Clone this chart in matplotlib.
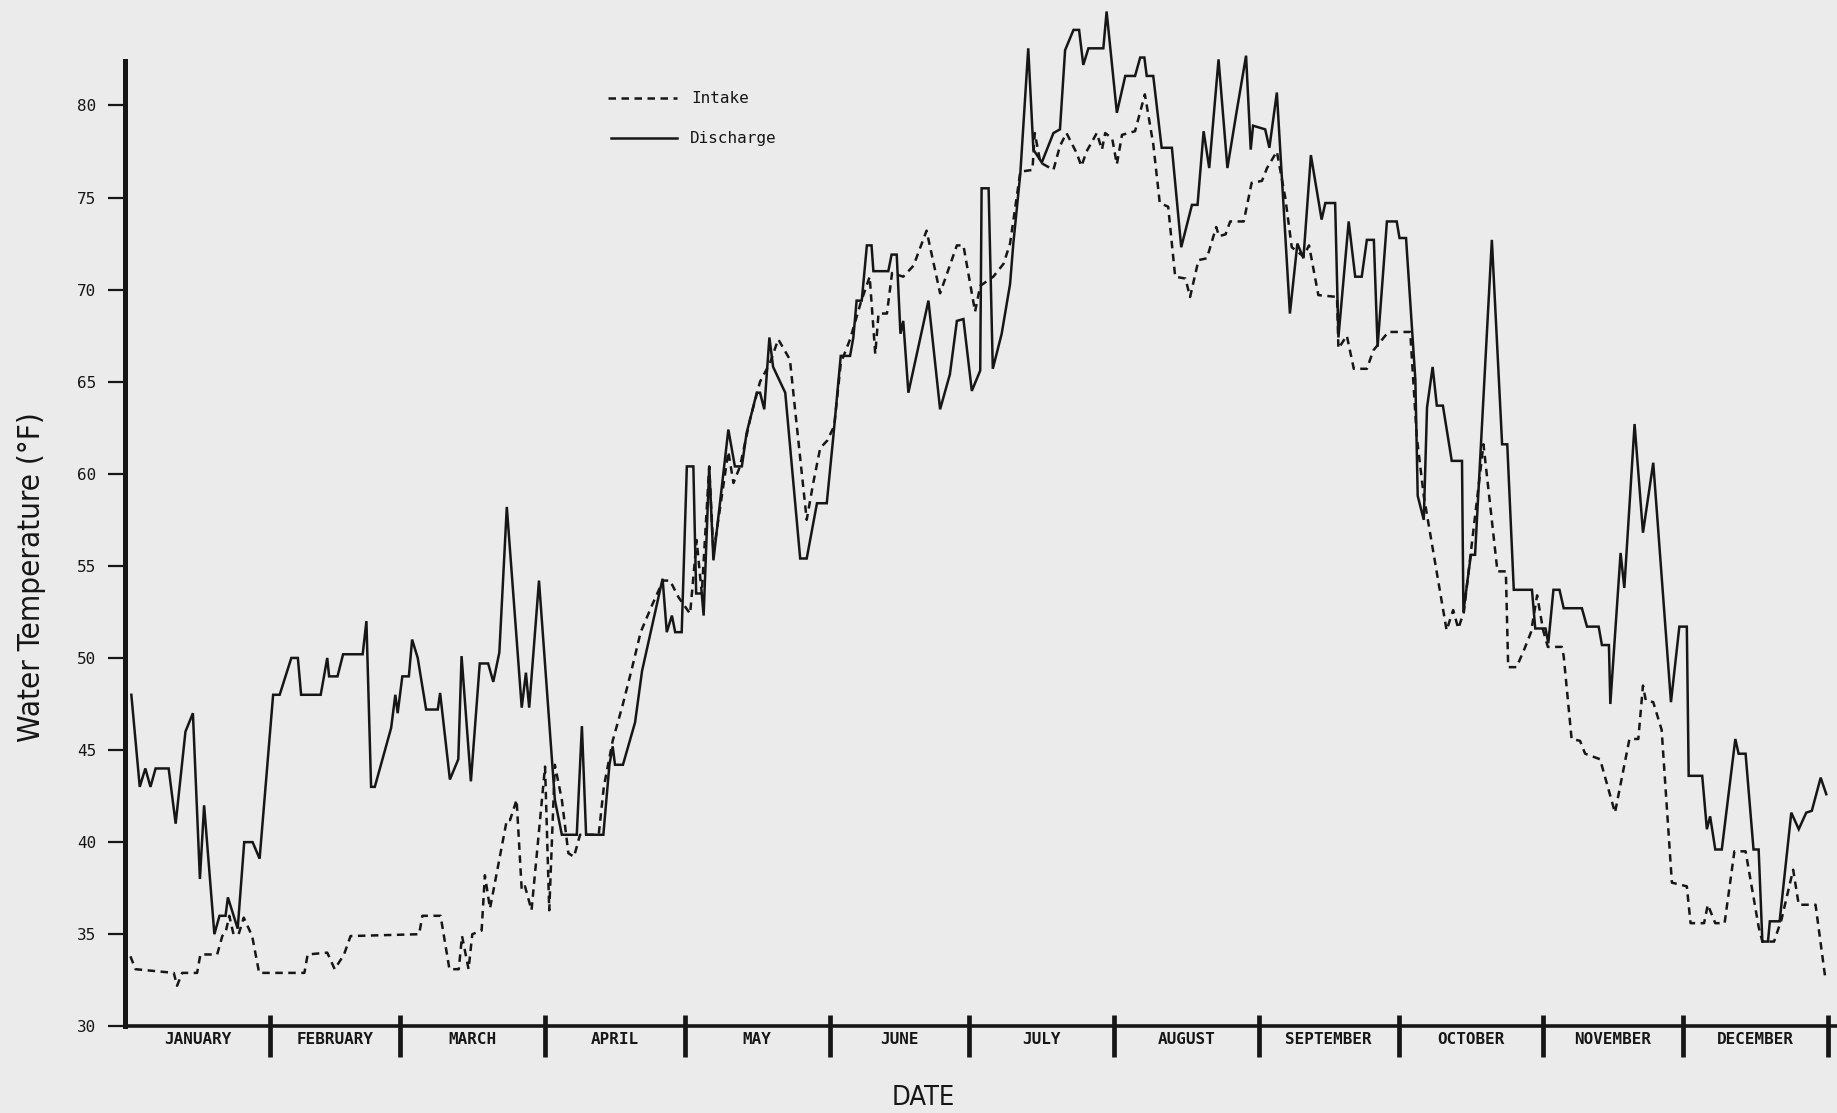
import matplotlib
matplotlib.use("Agg")
import matplotlib.pyplot as plt
from matplotlib.lines import Line2D

# ---- data: day of year and water temperature (deg F) ----
discharge_day = [
    1.3, 3.1, 4.3, 5.4, 6.5, 9.3, 10.8, 12.9, 14.5, 16.0, 16.9, 19.1, 20.2, 21.5, 22.0,
    24.1, 25.5, 27.3, 28.8, 31.7, 33.1, 35.6, 37.0, 37.7, 41.9, 43.3, 43.7, 45.5, 46.7,
    50.9, 51.7, 52.7, 53.5, 57.0, 57.9, 58.4, 59.4, 60.8, 61.5, 62.7, 64.5, 67.0, 67.5,
    69.6, 71.4, 72.1, 74.1, 76.0, 77.8, 78.9, 80.2, 81.8, 85.0, 85.9, 86.6, 88.7, 92.1,
    93.6, 96.8, 97.9, 98.8, 102.5, 103.8, 104.5, 105.0, 106.7, 109.3, 110.8, 115.2,
    116.1, 117.2, 117.9, 119.3, 120.4, 121.8, 122.4, 123.6, 124.0, 125.2, 126.1, 129.3,
    130.7, 132.2, 133.2, 135.4, 136.1, 137.0, 138.1, 138.9, 141.5, 144.7, 146.1, 148.3,
    150.4, 151.8, 153.4, 155.4, 156.1, 156.8, 157.9, 159.0, 160.0, 160.4, 163.6, 164.3,
    165.4, 166.2, 166.8, 167.9, 172.2, 174.7, 176.8, 178.3, 179.7, 181.5, 183.3, 183.6,
    185.1, 186.0, 187.9, 189.7, 190.4, 191.9, 193.6, 194.7, 196.5, 199.0, 200.4, 201.5,
    203.3, 204.5, 205.4, 206.5, 209.7, 210.4, 212.6, 214.4, 216.5, 217.6, 218.5, 219.0,
    220.4, 222.2, 224.4, 226.4, 228.7, 229.9, 231.2, 232.4, 234.4, 236.3, 238.3, 240.3,
    241.3, 241.8, 244.4, 245.3, 246.9, 249.7, 251.3, 252.6, 254.2, 256.5, 257.3, 259.4,
    260.1, 262.3, 263.7, 265.1, 266.2, 267.7, 268.5, 270.5, 272.6, 273.2, 274.6, 276.6,
    277.1, 278.4, 279.1, 280.3, 281.2, 282.5, 284.4, 286.6, 286.9, 288.5, 289.4, 293.0,
    295.2, 296.3, 297.7, 301.6, 302.3, 304.5, 305.1, 306.2, 307.5, 308.4, 312.3, 313.4,
    315.9, 316.6, 318.1, 318.4, 320.6, 321.4, 323.6, 325.4, 327.6, 331.4, 333.2, 334.8,
    335.2, 338.1, 339.1, 339.8, 340.9, 342.3, 345.2, 345.9, 347.4, 349.1, 350.2, 351.0,
    352.2, 352.6, 354.7, 357.2, 358.8, 360.4, 361.6, 363.5, 364.7,
]
discharge_temp = [
    48.0, 43.0, 44.0, 43.0, 44.0, 44.0, 41.0, 46.0, 47.0, 38.0, 42.0, 35.0, 36.0, 36.0, 37.0,
    35.3, 40.0, 40.0, 39.1, 48.0, 48.0, 50.0, 50.0, 48.0, 48.0, 50.0, 49.0, 49.0, 50.2,
    50.2, 52.0, 43.0, 43.0, 46.2, 48.0, 47.0, 49.0, 49.0, 51.0, 50.0, 47.2, 47.2, 48.1,
    43.4, 44.5, 50.1, 43.3, 49.7, 49.7, 48.7, 50.3, 58.2, 47.3, 49.2, 47.3, 54.2, 42.3,
    40.4, 40.4, 46.3, 40.4, 40.4, 44.2, 45.2, 44.2, 44.2, 46.5, 49.3, 54.3,
    51.4, 52.3, 51.4, 51.4, 60.4, 60.4, 53.5, 53.5, 52.3, 60.4, 55.3, 62.4,
    60.4, 60.4, 62.2, 64.4, 64.4, 63.5, 67.4, 65.8, 64.4, 55.4, 55.4, 58.4,
    58.4, 62.0, 66.4, 66.4, 67.4, 69.4, 69.4, 72.4, 72.4, 71.0, 71.0, 71.9,
    71.9, 67.6, 68.3, 64.4, 69.4, 63.5, 65.4, 68.3, 68.4, 64.5, 65.6, 75.5,
    75.5, 65.7, 67.6, 70.3, 72.5, 76.3, 83.1, 77.6, 76.9, 78.5, 78.7, 83.0,
    84.1, 84.1, 82.2, 83.1, 83.1, 85.1, 79.6, 81.6, 81.6, 82.6, 82.6, 81.6,
    81.6, 77.7, 77.7, 72.3, 74.6, 74.6, 78.6, 76.6, 82.5, 76.6, 79.7, 82.7,
    77.6, 78.9, 78.7, 77.7, 80.7, 68.7, 72.5, 71.7, 77.3, 73.8, 74.7, 74.7,
    67.4, 73.7, 70.7, 70.7, 72.7, 72.7, 66.9, 73.7, 73.7, 72.8, 72.8, 65.1,
    58.8, 57.5, 63.6, 65.8, 63.7, 63.7, 60.7, 60.7, 52.5, 55.6, 55.6, 72.7,
    61.6, 61.6, 53.7, 53.7, 51.6, 51.6, 50.8, 53.7, 53.7, 52.7, 52.7, 51.7,
    51.7, 50.7, 50.7, 47.5, 55.7, 53.8, 62.7, 56.8, 60.6, 47.6, 51.7, 51.7,
    43.6, 43.6, 40.7, 41.4, 39.6, 39.6, 45.6, 44.8, 44.8, 39.6, 39.6, 34.6,
    34.6, 35.7, 35.7, 41.6, 40.7, 41.6, 41.7, 43.5, 42.6,
]

intake_day = [
    1.1, 2.2, 10.4, 11.1, 12.2, 15.4, 16.1, 19.7, 20.8, 21.6, 22.3, 23.2, 24.3, 25.4,
    27.2, 28.7, 38.4, 39.1, 43.3, 44.9, 46.9, 48.3, 63.0, 63.7, 67.6, 69.5, 71.5, 72.2,
    73.6, 74.4, 76.4, 77.1, 78.2, 81.8, 82.5, 83.9, 85.0, 85.7, 87.1, 90.0, 90.9, 92.1,
    93.6, 95.0, 96.2, 97.5, 101.5, 102.6, 104.5, 106.7, 108.6, 110.5, 113.0, 115.3,
    116.8, 118.6, 121.1, 122.5, 123.6, 125.2, 126.1, 129.3, 130.4, 131.8, 134.0, 136.1,
    138.2, 140.0, 142.5, 143.6, 146.1, 147.5, 149.0, 150.5, 152.0, 153.4, 155.4, 157.7,
    159.6, 160.8, 161.5, 163.3, 164.4, 166.8, 169.0, 171.8, 174.7, 178.3, 179.7, 182.2,
    183.3, 186.1, 188.3, 189.7, 191.9, 194.5, 195.0, 196.2, 199.0, 200.4, 201.8, 204.0,
    205.0, 206.1, 208.3, 209.4, 210.1, 211.6, 212.6, 213.7, 216.5, 218.6, 220.4, 221.8,
    223.6, 225.1, 227.3, 228.3, 230.1, 231.9, 233.9, 234.5, 235.9, 236.9, 239.8, 241.5,
    243.7, 244.8, 246.9, 248.7, 250.1, 252.6, 253.8, 255.8, 259.8, 260.1, 261.9, 263.4,
    266.2, 267.6, 270.8, 275.5, 276.9, 278.4, 283.3, 284.7, 285.8, 287.0, 291.2, 294.2,
    296.0, 296.5, 298.3, 300.0, 301.4, 302.7, 304.0, 305.0, 308.0, 308.4, 310.1, 311.9,
    313.0, 316.2, 319.4, 322.5, 324.4, 325.4, 326.0, 327.6, 329.4, 331.6, 334.8, 335.6,
    338.5, 339.3, 340.9, 342.9, 345.0, 347.4, 350.2, 351.0, 353.5, 355.1, 357.6, 358.8,
    362.4, 364.5,
]
intake_temp = [
    33.8, 33.1, 32.9, 32.2, 32.9, 32.9, 33.9, 33.9, 34.9, 35.2, 36.0, 35.0, 35.0, 35.9,
    34.9, 32.9, 32.9, 33.9, 34.0, 33.1, 33.9, 34.9, 35.0, 36.0, 36.0, 33.1, 33.1, 34.9,
    33.1, 35.0, 35.2, 38.2, 36.4, 41.2, 41.2, 42.3, 37.4, 37.6, 36.3, 44.1, 36.3, 44.2,
    42.3, 39.4, 39.2, 40.4, 40.4, 43.0, 45.5, 47.5, 49.4, 51.4, 52.9, 54.2,
    54.2, 53.3, 52.4, 56.4, 53.5, 60.4, 55.7, 61.2, 59.5, 60.4, 63.0, 65.0,
    66.0, 67.3, 66.2, 63.5, 57.5, 59.5, 61.4, 61.8, 62.6, 66.0, 67.3, 69.3,
    70.7, 66.5, 68.7, 68.7, 70.9, 70.7, 71.3, 73.2, 69.8, 72.4, 72.4, 68.8,
    70.2, 70.7, 71.4, 72.5, 76.4, 76.5, 78.5, 76.9, 76.5, 77.8, 78.5, 77.4,
    76.7, 77.5, 78.5, 77.6, 78.5, 78.2, 76.8, 78.4, 78.6, 80.6, 77.9, 74.7,
    74.5, 70.7, 70.6, 69.6, 71.6, 71.7, 73.4, 72.9, 73.0, 73.7, 73.7, 75.8,
    75.9, 76.6, 77.5, 75.0, 72.3, 71.8, 72.4, 69.7, 69.6, 66.8, 67.5, 65.7,
    65.7, 66.7, 67.7, 67.7, 62.0, 58.8, 51.5, 52.6, 51.6, 52.5, 61.6, 54.7,
    54.7, 49.5, 49.5, 50.5, 51.4, 53.4, 51.5, 50.6, 50.6, 50.1, 45.6, 45.5,
    44.8, 44.5, 41.6, 45.6, 45.6, 48.5, 47.7, 47.6, 46.1, 37.8, 37.6, 35.6,
    35.6, 36.6, 35.6, 35.6, 39.5, 39.5, 35.4, 34.6, 34.6, 35.8, 38.5, 36.6,
    36.6, 32.6,
]

months = ["JANUARY", "FEBRUARY", "MARCH", "APRIL", "MAY", "JUNE", "JULY",
          "AUGUST", "SEPTEMBER", "OCTOBER", "NOVEMBER", "DECEMBER"]
month_days = [31, 28, 31, 30, 31, 30, 31, 31, 30, 31, 30, 31]
y_ticks = [30, 35, 40, 45, 50, 55, 60, 65, 70, 75, 80]

# ---- figure ----
paper = "#ebebeb"
ink = "#161616"
fig = plt.figure(figsize=(18.37, 11.13), dpi=100, facecolor=paper)
ax = fig.add_axes([0.0682, 0.0779, 0.9318, 0.9184])
ax.set_facecolor(paper)

ax.plot(intake_day, intake_temp, color=ink, lw=1.8, ls=(0, (3.0, 2.2)),
        solid_joinstyle="miter")
ax.plot(discharge_day, discharge_temp, color=ink, lw=1.8, solid_joinstyle="miter")

ax.set_xlim(0, 367)
ax.set_ylim(30, 85.5)

for s in ("top", "right"):
    ax.spines[s].set_visible(False)
ax.spines["left"].set_linewidth(3.6)
ax.spines["left"].set_color(ink)
ax.spines["left"].set_bounds(30, 82.4)
ax.spines["bottom"].set_linewidth(2.6)
ax.spines["bottom"].set_color(ink)

mono = "DejaVu Sans Mono"
ax.set_yticks(y_ticks)
ax.set_yticklabels([str(v) for v in y_ticks], family=mono, fontsize=11.5,
                   color=ink)
ax.tick_params(axis="y", direction="out", length=12, width=1.6, pad=9,
               color=ink)
ax.set_xticks([])

# month dividers and names along the date axis
edges = [0]
for n in month_days:
    edges.append(edges[-1] + n)
xt = ax.get_xaxis_transform()
ax.vlines(edges[1:], -0.030, 0.011, transform=xt, colors=ink, lw=3.4,
          clip_on=False)
for name, a, b in zip(months, edges[:-1], edges[1:]):
    ax.text((a + b) / 2, -0.0125, name, transform=xt, ha="center", va="center",
            family=mono, fontweight="bold", fontsize=11.5, color=ink)

ax.text(171, -0.070, "DATE", transform=xt, ha="center", va="center",
        fontsize=19.5, color=ink, family="DejaVu Sans", fontstretch="condensed")
ax.text(-0.0548, 0.439, "Water Temperature (\u00b0F)", transform=ax.transAxes,
        rotation=90, ha="center", va="center", fontsize=22.5, color=ink,
        family="DejaVu Sans", fontstretch="condensed")

# legend
ax.add_line(Line2D([0.282, 0.3224], [0.9077, 0.9077], transform=ax.transAxes,
                   color=ink, lw=1.8, ls=(0, (3.0, 2.2))))
ax.add_line(Line2D([0.2835, 0.3224], [0.8688, 0.8688], transform=ax.transAxes,
                   color=ink, lw=1.8))
ax.text(0.3306, 0.9077, "Intake", transform=ax.transAxes, va="center",
        family=mono, fontsize=11.5, color=ink)
ax.text(0.3300, 0.8688, "Discharge", transform=ax.transAxes, va="center",
        family=mono, fontsize=11.5, color=ink)

fig.savefig("out.png", dpi=100, facecolor=paper)
